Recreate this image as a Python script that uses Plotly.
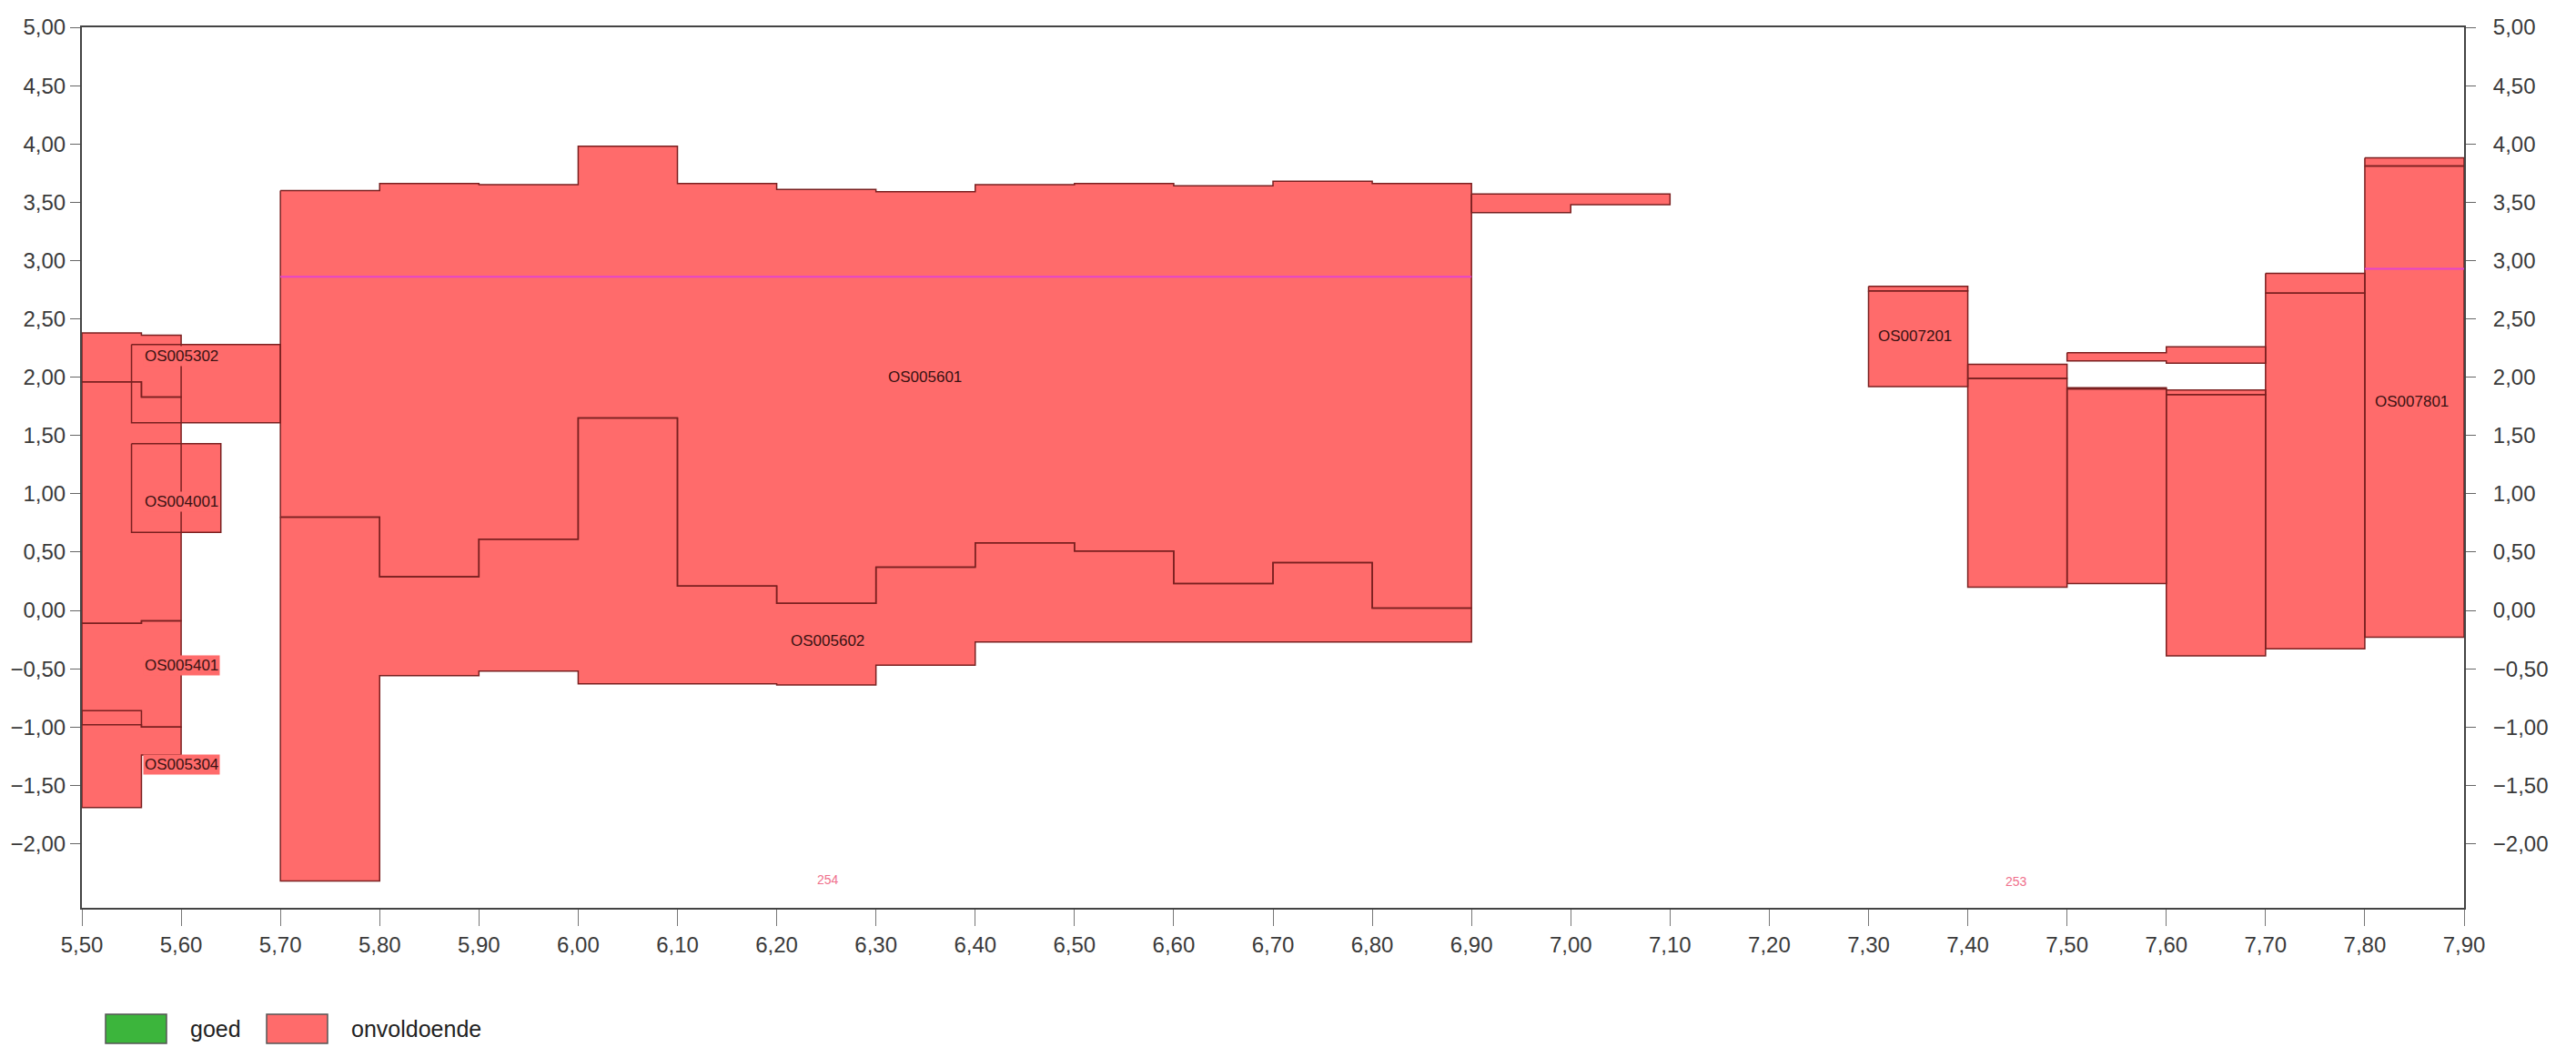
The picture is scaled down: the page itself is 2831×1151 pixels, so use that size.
import plotly.graph_objects as go

# ---------------- data (km along axis, level in m) ----------------
# left cluster (two columns with stepped layers)
left_edges = [5.50, 5.56, 5.60]
left_top_1 = [2.38, 2.36]
left_bot_1 = [1.96, 1.83]
left_top_2 = [1.96, 1.83]
left_bot_2 = [-0.11, -0.09]
left_top_3 = [-0.11, -0.09]
left_bot_3 = [-0.98, -1.00]
left_top_4 = [-0.86, -1.00]
left_bot_4 = [-1.69, -1.24]

box_os005302_edges = [5.55, 5.70]
box_os005302_top = [2.28]
box_os005302_bot = [1.61]
box_os004001_edges = [5.55, 5.64]
box_os004001_top = [1.43]
box_os004001_bot = [0.67]

# middle section OS005601 / OS005602
mid_edges = [5.70, 5.80, 5.90, 6.00, 6.10, 6.20, 6.30, 6.40, 6.50, 6.60, 6.70, 6.80, 6.90]
os005601_top = [3.60, 3.66, 3.65, 3.98, 3.66, 3.61, 3.59, 3.65, 3.66, 3.64, 3.68, 3.66]
os005601_bot = [0.80, 0.29, 0.61, 1.65, 0.21, 0.06, 0.37, 0.58, 0.51, 0.23, 0.41, 0.02]
os005602_bot = [-2.32, -0.56, -0.52, -0.63, -0.63, -0.64, -0.47, -0.27, -0.27, -0.27, -0.27, -0.27]
strip_edges = [6.90, 7.00, 7.10]
strip_top = [3.57, 3.57]
strip_bot = [3.41, 3.48]

# right section (separate columns)
right_edges = [7.30, 7.40, 7.50, 7.60, 7.70, 7.80, 7.90]
right_upper_top = [2.78, 2.11, 1.91, 1.89, 2.89, 3.88]
right_upper_bot = [2.74, 1.99, 1.90, 1.85, 2.72, 3.81]
right_lower_bot = [1.92, 0.20, 0.23, -0.39, -0.33, -0.23]
right_strip_edges = [7.50, 7.60, 7.70]
right_strip_top = [2.21, 2.26]
right_strip_bot = [2.14, 2.12]

# reference level segments (magenta)
level_x0 = [5.70, 7.80]
level_x1 = [6.90, 7.90]
level_y = [2.86, 2.93]

# labels
label_text = ["OS005302", "OS004001", "OS005401", "OS005304"]
label_x = [5.561, 5.561, 5.561, 5.561]
label_y = [2.18, 0.93, -0.47, -1.32]
clabel_text = ["OS005601", "OS005602", "OS007201", "OS007801"]
clabel_x = [6.349, 6.251, 7.347, 7.847]
clabel_y = [2.00, -0.26, 2.35, 1.79]
mark_text = ["254", "253"]
mark_x = [6.252, 7.449]
mark_y = [-2.31, -2.32]

x_tick_vals = [5.5, 5.6, 5.7, 5.8, 5.9, 6.0, 6.1, 6.2, 6.3, 6.4, 6.5, 6.6, 6.7,
               6.8, 6.9, 7.0, 7.1, 7.2, 7.3, 7.4, 7.5, 7.6, 7.7, 7.8, 7.9]
y_tick_vals = [-2.0, -1.5, -1.0, -0.5, 0.0, 0.5, 1.0, 1.5, 2.0, 2.5, 3.0, 3.5, 4.0, 4.5, 5.0]
legend_names = ["goed", "onvoldoende"]
legend_colors = ["#3cb53c", "#ff6b6b"]

# ---------------- styling ----------------
FILL = "#ff6b6b"
EDGE = "#7a2020"
FONT = "Arial, Liberation Sans, sans-serif"
W, H = 2831, 1151
L, R, T, B = 90, 123, 30, 153


def step_polygon(edges, top, bot):
    xs, ys = [], []
    for i in range(len(top)):
        xs += [edges[i], edges[i + 1]]
        ys += [top[i], top[i]]
    for i in reversed(range(len(bot))):
        xs += [edges[i + 1], edges[i]]
        ys += [bot[i], bot[i]]
    xs.append(xs[0])
    ys.append(ys[0])
    return xs, ys


polys = [
    step_polygon(left_edges, left_top_1, left_bot_1),
    step_polygon(left_edges, left_top_2, left_bot_2),
    step_polygon(left_edges, left_top_3, left_bot_3),
    step_polygon(left_edges, left_top_4, left_bot_4),
    step_polygon(box_os005302_edges, box_os005302_top, box_os005302_bot),
    step_polygon(box_os004001_edges, box_os004001_top, box_os004001_bot),
    step_polygon(mid_edges, os005601_top, os005601_bot),
    step_polygon(mid_edges, os005601_bot, os005602_bot),
    step_polygon(strip_edges, strip_top, strip_bot),
    step_polygon(right_strip_edges, right_strip_top, right_strip_bot),
]
for i in range(len(right_upper_top)):
    e = right_edges[i:i + 2]
    polys.append(step_polygon(e, [right_upper_top[i]], [right_upper_bot[i]]))
    polys.append(step_polygon(e, [right_upper_bot[i]], [right_lower_bot[i]]))

all_x, all_y = [], []
for xs, ys in polys:
    all_x += xs + [None]
    all_y += ys + [None]

fig = go.Figure()
fig.add_trace(go.Scatter(x=all_x, y=all_y, mode="none", fill="toself",
                         fillcolor=FILL, hoverinfo="skip", showlegend=False))
fig.add_trace(go.Scatter(x=all_x, y=all_y, mode="lines",
                         line=dict(color=EDGE, width=1.5), hoverinfo="skip",
                         showlegend=False))
lx, ly = [], []
for a, b, y in zip(level_x0, level_x1, level_y):
    lx += [a, b, None]
    ly += [y, y, None]
fig.add_trace(go.Scatter(x=lx, y=ly, mode="lines", line=dict(color="#e444cc", width=2),
                         hoverinfo="skip", showlegend=False))
# right axis carrier
fig.add_trace(go.Scatter(x=[7.9], y=[5.0], yaxis="y2", mode="none",
                         hoverinfo="skip", showlegend=False))

annotations = []
for t, x, y in zip(label_text, label_x, label_y):
    annotations.append(dict(x=x, y=y, xref="x", yref="y", text=t, showarrow=False,
                            xanchor="left", yanchor="middle", bgcolor=FILL, borderpad=1,
                            font=dict(family=FONT, size=17, color="#3a1212")))
for t, x, y in zip(clabel_text, clabel_x, clabel_y):
    annotations.append(dict(x=x, y=y, xref="x", yref="y", text=t, showarrow=False,
                            xanchor="center", yanchor="middle",
                            font=dict(family=FONT, size=17, color="#3a1212")))
for t, x, y in zip(mark_text, mark_x, mark_y):
    annotations.append(dict(x=x, y=y, xref="x", yref="y", text=t, showarrow=False,
                            xanchor="center", yanchor="middle",
                            font=dict(family=FONT, size=14, color="#f0708c")))

# manual legend (paper coordinates derived from pixel positions)
pw, ph = W - L - R, H - T - B


def px(xp):
    return (xp - L) / pw


def py(yp):
    return (H - B - yp) / ph


shapes = []
sw_left = [116, 293]
tx_left = [207, 384]
for name, col, s0, t0 in zip(legend_names, legend_colors, sw_left, tx_left):
    shapes.append(dict(type="rect", xref="paper", yref="paper",
                       x0=px(s0), x1=px(s0 + 67), y0=py(1147), y1=py(1115),
                       fillcolor=col, line=dict(color="#555555", width=1.5)))
    annotations.append(dict(x=px(t0), y=py(1131), xref="paper", yref="paper", text=name,
                            showarrow=False, xanchor="left", yanchor="middle",
                            font=dict(family=FONT, size=25, color="#222222")))

tick_font = dict(family=FONT, size=24, color="#3a3a3a")
yaxis_common = dict(range=[-2.55, 5.0], tickvals=y_tick_vals, tickformat=".2f",
                    showgrid=False, zeroline=False, showline=True, linecolor="#444444",
                    linewidth=2, ticks="outside", ticklen=11, tickcolor="#666666",
                    tickfont=tick_font)

fig.update_layout(
    width=W, height=H,
    margin=dict(l=L, r=R, t=T, b=B),
    paper_bgcolor="white", plot_bgcolor="white",
    separators=",.",
    showlegend=False,
    xaxis=dict(range=[5.5, 7.9], tickvals=x_tick_vals, tickformat=".2f", showgrid=False,
               zeroline=False, showline=True, linecolor="#444444", linewidth=2,
               mirror=True, ticks="outside", ticklen=18, tickcolor="#777777",
               tickfont=tick_font),
    yaxis=dict(**yaxis_common),
    yaxis2=dict(**yaxis_common, overlaying="y", side="right", ticklabelstandoff=14),
    annotations=annotations,
    shapes=shapes,
)

fig.write_html("out.html", config={"displayModeBar": False},
               post_script="document.body.style.margin='0';document.body.style.overflow='hidden';")
